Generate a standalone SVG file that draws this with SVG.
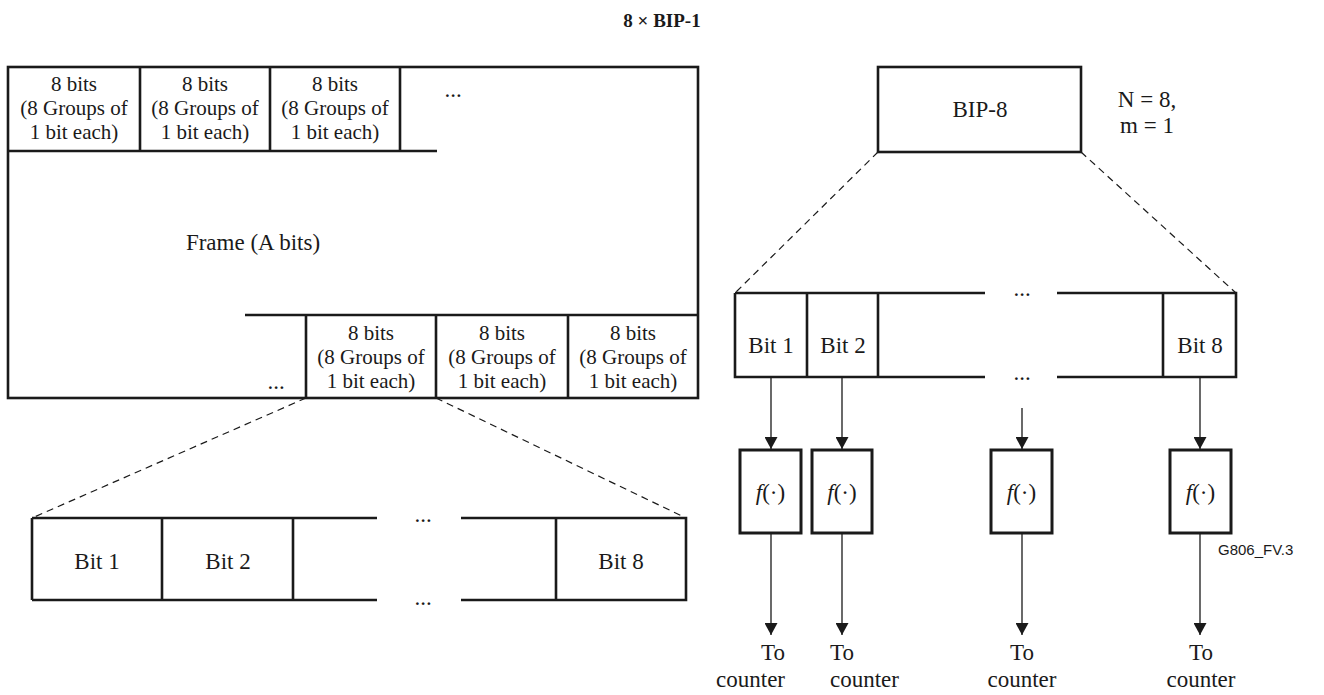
<svg xmlns="http://www.w3.org/2000/svg" width="1324" height="695" viewBox="0 0 1324 695">
<style>
.t{font-family:"Liberation Serif","Times New Roman",serif;font-size:23px;fill:#1a1a1a;text-anchor:middle}
.c{font-size:21px}
.thick{stroke:#1a1a1a;stroke-width:2.6;fill:none}
.thin{stroke:#1a1a1a;stroke-width:1.3;fill:none}
.dash{stroke:#1a1a1a;stroke-width:1.2;fill:none;stroke-dasharray:7 5}
.box{stroke:#1a1a1a;stroke-width:3;fill:#fff}
</style>
<defs>
<marker id="ah" markerUnits="userSpaceOnUse" markerWidth="12" markerHeight="13" refX="12" refY="6.5" orient="auto" viewBox="0 0 12 13">
<path d="M0,0 L12,6.5 L0,13 Z" fill="#1a1a1a"/>
</marker>
</defs>
<rect width="1324" height="695" fill="#fff"/>
<text id="title" x="662" y="27" class="t" style="font-weight:bold;font-size:19px">8 × BIP-1</text>

<g id="frame">
<rect x="8" y="67" width="690" height="331" class="thick"/>
<path class="thick" d="M8,151 H437 M140,67 V151 M270,67 V151 M400,67 V151"/>
<path class="thick" d="M245,315 H698 M306,315 V398 M436,315 V398 M568,315 V398"/>
<text class="t" x="253" y="250">Frame (A bits)</text>
<text class="t" x="453" y="97">...</text>
<text class="t" x="276" y="389">...</text>
</g>
<g id="cell-top-1"><text class="t c" x="74" y="91">8 bits</text><text class="t c" x="74" y="115">(8 Groups of</text><text class="t c" x="74" y="139">1 bit each)</text></g>
<g id="cell-top-2"><text class="t c" x="205" y="91">8 bits</text><text class="t c" x="205" y="115">(8 Groups of</text><text class="t c" x="205" y="139">1 bit each)</text></g>
<g id="cell-top-3"><text class="t c" x="335" y="91">8 bits</text><text class="t c" x="335" y="115">(8 Groups of</text><text class="t c" x="335" y="139">1 bit each)</text></g>
<g id="cell-bot-1"><text class="t c" x="371" y="340">8 bits</text><text class="t c" x="371" y="364">(8 Groups of</text><text class="t c" x="371" y="388">1 bit each)</text></g>
<g id="cell-bot-2"><text class="t c" x="502" y="340">8 bits</text><text class="t c" x="502" y="364">(8 Groups of</text><text class="t c" x="502" y="388">1 bit each)</text></g>
<g id="cell-bot-3"><text class="t c" x="633" y="340">8 bits</text><text class="t c" x="633" y="364">(8 Groups of</text><text class="t c" x="633" y="388">1 bit each)</text></g>

<g id="bitrow-left">
<path class="thick" d="M32,518 H377 M461,518 H686 V600 H461 M377,600 H32 Z M32,518 V600 M162,518 V600 M293,518 V600 M556,518 V600"/>
<text class="t" x="97" y="569">Bit 1</text>
<text class="t" x="228" y="569">Bit 2</text>
<text class="t" x="621" y="569">Bit 8</text>
<text class="t" x="423" y="522">...</text>
<text class="t" x="423" y="605">...</text>
</g>

<g id="bip8">
<rect x="878" y="67" width="203" height="85" class="thick"/>
<text class="t" x="980" y="117">BIP-8</text>
</g>
<g id="nm"><text class="t" x="1147" y="107">N = 8,</text><text class="t" x="1147" y="133">m = 1</text></g>

<g id="bitrow-right">
<path class="thick" d="M735,293 H985 M1057,293 H1236 V377 H1057 M985,377 H735 V293 M807,293 V377 M878,293 V377 M1163,293 V377"/>
<text class="t" x="771" y="353">Bit 1</text>
<text class="t" x="843" y="353">Bit 2</text>
<text class="t" x="1200" y="353">Bit 8</text>
<text class="t" x="1022" y="296">...</text>
<text class="t" x="1022" y="380">...</text>
</g>

<g id="f1"><rect x="740" y="450" width="61" height="83" class="box"/><text class="t" x="770.5" y="500"><tspan font-style="italic">f</tspan>(·)</text></g>
<g id="f2"><rect x="812" y="450" width="60" height="83" class="box"/><text class="t" x="842" y="500"><tspan font-style="italic">f</tspan>(·)</text></g>
<g id="f3"><rect x="991" y="450" width="61" height="83" class="box"/><text class="t" x="1021.5" y="500"><tspan font-style="italic">f</tspan>(·)</text></g>
<g id="f4"><rect x="1170" y="450" width="61" height="83" class="box"/><text class="t" x="1200.5" y="500"><tspan font-style="italic">f</tspan>(·)</text></g>

<g id="out1"><text class="t" x="785" y="660" style="text-anchor:end">To</text><text class="t" x="785" y="687" style="text-anchor:end">counter</text></g>
<g id="out2"><text class="t" x="830" y="660" style="text-anchor:start">To</text><text class="t" x="830" y="687" style="text-anchor:start">counter</text></g>
<g id="out3"><text class="t" x="1022" y="660">To</text><text class="t" x="1022" y="687">counter</text></g>
<g id="out4"><text class="t" x="1201" y="660">To</text><text class="t" x="1201" y="687">counter</text></g>

<text id="figid" x="1218" y="555" style="font-family:'Liberation Sans',Arial,sans-serif;font-size:15px;fill:#1a1a1a">G806_FV.3</text>

<g id="connectors">
<path class="dash" d="M306,398 L32,518 M436,398 L686,518"/>
<path class="dash" d="M878,152 L735,293 M1081,152 L1236,293"/>
<path class="thin" marker-end="url(#ah)" d="M771,377 V449"/>
<path class="thin" marker-end="url(#ah)" d="M842,377 V449"/>
<path class="thin" marker-end="url(#ah)" d="M1022,408 V449"/>
<path class="thin" marker-end="url(#ah)" d="M1200,377 V449"/>
<path class="thin" marker-end="url(#ah)" d="M771,533 V635"/>
<path class="thin" marker-end="url(#ah)" d="M842,533 V635"/>
<path class="thin" marker-end="url(#ah)" d="M1022,533 V635"/>
<path class="thin" marker-end="url(#ah)" d="M1200,533 V635"/>
</g>
</svg>
